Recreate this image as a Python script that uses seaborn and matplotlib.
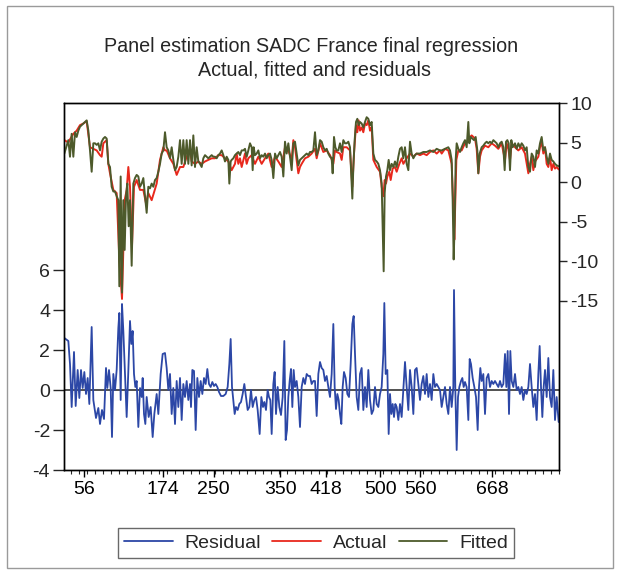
import matplotlib
matplotlib.use("Agg")
import matplotlib.pyplot as plt
import seaborn as sns
from matplotlib.ticker import FixedLocator, MultipleLocator
from matplotlib.patches import Rectangle
from matplotlib.lines import Line2D

sns.set_style("white")
plt.rcParams['font.family'] = ['Liberation Sans', 'DejaVu Sans']

title_lines = ["Panel estimation SADC France final regression", "Actual, fitted and residuals"]
series_names = ["Residual", "Actual", "Fitted"]
x_tick_values = [56, 174, 250, 350, 418, 500, 560, 668]
left_ticks = [-4, -2, 0, 2, 4, 6]
right_ticks = [-15, -10, -5, 0, 5, 10]

resid_obs = [
    26, 32, 34.5, 37, 40.5, 43, 46, 48.5, 51, 53.5,
    56, 58.5, 61, 63.5, 67, 69.5, 73.5, 77, 79.5, 82.5,
    85.5, 88.5, 90.5, 93, 95.5, 97.5, 99.5, 102, 104.5, 107,
    108.5, 110.5, 112.5, 114.5, 117, 119.5, 122, 124.5, 126.5, 128.5,
    130.5, 132.5, 134.5, 137, 139.5, 142, 143.5, 145.5, 147.5, 149.5,
    152.5, 155.5, 158.5, 161, 164.5, 167, 170.5, 173.5, 177, 179.5,
    182, 184.5, 187, 189.5, 192, 194.5, 197, 199.5, 202, 204.5,
    207, 209.5, 212, 214.5, 216, 218, 220.5, 223, 225.5, 228,
    230.5, 233, 235.5, 238, 240.5, 243, 245.5, 248, 250.5, 253,
    255.5, 258, 261, 264.5, 268, 271, 273.5, 275.5, 277.5, 279.5,
    281.5, 283.5, 286, 288.5, 291, 293.5, 296, 298.5, 301, 303.5,
    306, 308.5, 311, 313.5, 316, 319, 321.5, 324, 326, 328.5,
    331, 333, 335, 337, 339.5, 341.5, 343.5, 346, 348.5, 351,
    353.5, 356, 358, 360, 362, 364, 366, 368, 370, 372,
    374.5, 377, 379.5, 382, 384.5, 387, 389.5, 392, 394.5, 397,
    399.5, 402, 404.5, 407, 409.5, 412, 414.5, 417, 419.5, 422,
    424.5, 427, 429.5, 431.5, 433.5, 435.5, 437.5, 439.5, 441.5, 443.5,
    445.5, 448, 450.5, 453, 455.5, 458, 460, 462, 464.5, 467,
    469.5, 472, 474.5, 477, 479.5, 482, 484.5, 487, 489.5, 492,
    494.5, 497, 499.5, 502, 504.5, 506, 508, 510.5, 512.5, 514.5,
    516.5, 518.5, 520.5, 522.5, 524.5, 527, 529.5, 532, 534.5, 537,
    539.5, 542, 544.5, 547, 549.5, 552, 554.5, 557, 559.5, 562,
    564.5, 567, 569.5, 572, 574.5, 577, 579.5, 582, 584.5, 587,
    589.5, 592, 594.5, 597, 599.5, 602, 604.5, 607, 609.5, 610.5,
    612.5, 614.5, 616.5, 618.5, 621, 623, 625, 627, 629.5, 632,
    634, 636, 638.5, 641, 643.5, 646, 648, 650, 652, 654.5,
    657, 659.5, 662, 664.5, 667, 669.5, 672, 674.5, 677, 679.5,
    682, 684.5, 687, 689, 691, 693, 695, 697, 699.5, 702,
    704.5, 707, 709.5, 712, 714.5, 717, 719.5, 722, 724.5, 727,
    729.5, 732, 734.5, 737, 739, 741, 743, 745, 747, 749.5,
    752, 754.5, 757, 759.5, 762, 764.5, 767.5,
]
resid_val = [
    2.6, 2.45, 1.3, -0.85, 1.9, -0.8, 1.0, -0.4, 1.0, 0.1,
    0.9, -0.2, 0.6, -0.7, 3.15, -0.5, -1.4, -0.9, -1.7, -1.0,
    -1.45, 1.1, 0.1, 1.0, 0.1, -2.35, 0.8, 0.0, 1.0, 3.1,
    3.85, -0.5, 4.3, 2.95, 0.8, -1.35, 0.95, 3.45, 2.3, 2.95,
    0.8, 0.15, 0.45, -1.85, 0.1, -0.35, 0.6, -1.2, -1.7, -0.35,
    -1.35, -0.85, -2.35, -1.2, -0.2, -1.2, 0.8, 1.8, 1.85, 1.1,
    0.0, 0.8, -1.2, 0.1, -1.7, 0.45, -0.85, 0.6, -1.5, 0.3,
    -0.35, 0.45, -0.5, 0.3, -0.85, 1.0, 0.95, -2.0, 0.6, -0.35,
    0.45, -0.2, 0.6, 0.3, 1.05, 0.3, 0.15, 0.4, 0.2, 0.3,
    0.15, -0.1, -0.3, -0.3, -0.2, 0.15, 1.3, 2.55, 0.15, -0.5,
    -1.2, -0.85, -1.0, -0.7, -0.6, -0.2, 0.3, -0.35, -1.0, -0.85,
    0.0, -0.85, -0.5, -0.35, -1.0, -2.2, -0.35, -0.85, -0.6, -1.0,
    0.0, -0.35, -0.5, -2.2, 0.3, 0.9, -1.2, 0.15, -0.85, -1.25,
    -0.35, 2.45, -2.5, -2.0, -0.35, 0.45, 1.05, -0.85, 1.0, 0.15,
    0.45, -0.35, -1.85, 0.15, 0.6, 0.3, 0.8, 0.7, 0.7, 0.3,
    0.45, 0.45, -1.3, 0.8, 1.4, 1.1, 1.0, 0.45, 0.7, 0.15,
    -0.35, 0.8, 3.3, 0.15, -0.95, -0.2, -0.5, -1.2, -1.7, 0.15,
    0.9, 0.6, -0.2, -0.35, 1.3, 3.3, 3.7, 1.8, -0.35, -1.0,
    0.8, 1.1, -1.0, 0.15, -0.85, 1.0, -0.5, -1.2, -1.0, 0.15,
    -0.7, -0.85, -0.2, 0.15, 1.8, 4.35, 0.8, 1.0, -2.2, -0.2,
    -1.2, -0.7, -1.35, -0.7, -0.85, -1.5, -0.7, -1.35, 0.0, 1.4,
    0.15, -1.0, 1.0, 0.15, -1.2, 1.0, 1.1, 0.3, -0.5, 0.3,
    0.7, -0.2, 0.8, -0.35, 0.3, -0.5, 0.8, 0.15, 0.3, 0.15,
    0.0, -0.85, -0.35, 0.15, -0.7, -1.2, 0.15, -0.85, 0.15, 5.0,
    0.0, -3.0, -0.35, 0.15, 0.45, 0.6, 0.15, 0.4, 0.15, -1.5,
    1.55, 1.3, 0.6, 0.15, -0.35, -2.0, 0.15, 1.1, 0.45, 0.8,
    -1.2, 0.6, 0.8, 0.15, 0.45, 0.3, 0.45, 0.3, 0.15, 0.45,
    0.15, 0.3, 1.8, 0.15, 1.95, -1.2, 1.95, 0.45, 0.15, 0.8,
    0.0, 0.15, -0.2, 0.15, -0.5, 0.0, -0.2, 0.15, 1.3, 0.15,
    -0.85, -0.2, -1.5, 0.8, 2.2, 0.15, -1.35, 0.15, 1.0, -0.35,
    1.6, -0.35, -0.85, 1.0, -1.5, -0.35, -1.6,
]

fitted_obs = [
    26, 32, 34.5, 37, 39.5, 42, 44.5, 47, 49.5, 52,
    54.5, 57, 59.5, 62, 64.5, 67, 69.5, 72, 74.5, 77,
    79.5, 82, 84.5, 87, 89.5, 92, 94.5, 97, 99.5, 102,
    104.5, 107, 108.5, 110.5, 112.5, 114.5, 116.5, 118.5, 120.5, 122.5,
    124.5, 127, 129.5, 132, 134.5, 137, 139.5, 142, 144.5, 147,
    149.5, 152, 154.5, 157, 159.5, 162, 164.5, 167, 169.5, 172,
    174.5, 177, 179.5, 182, 184.5, 187, 189.5, 192, 194.5, 197,
    199.5, 202, 204.5, 207, 209.5, 212, 214.5, 217, 219.5, 222,
    224.5, 227, 229.5, 232, 234.5, 237, 239.5, 242, 244.5, 247,
    249.5, 252, 254.5, 257, 259.5, 262, 264.5, 267, 269.5, 272,
    273.5, 275.5, 277, 279.5, 282, 284.5, 287, 289.5, 292, 294.5,
    297, 299.5, 302, 304.5, 307, 308.5, 310, 312, 314.5, 317,
    319.5, 322, 324.5, 327, 329.5, 332, 334.5, 337, 339.5, 342,
    344.5, 347, 349.5, 352, 354.5, 357, 359.5, 362, 364.5, 367,
    369.5, 372, 374.5, 377, 379.5, 382, 384.5, 387, 389.5, 392,
    394.5, 397, 399.5, 402, 404.5, 407, 409.5, 412, 414.5, 417,
    419.5, 422, 424.5, 427, 428.5, 430.5, 432.5, 434.5, 437, 439.5,
    442, 444.5, 447, 449.5, 452, 454.5, 456.5, 458, 459.5, 461.5,
    463.5, 465.5, 467.5, 469.5, 472, 474.5, 477, 479.5, 482, 484.5,
    487, 489.5, 492, 494.5, 497, 499.5, 502, 503.5, 505, 506.5,
    508.5, 510.5, 512.5, 514.5, 517, 519.5, 522, 524.5, 527, 529.5,
    532, 534.5, 537, 539.5, 542, 544.5, 547, 549.5, 552, 554.5,
    559.5, 564.5, 569.5, 574.5, 579.5, 584.5, 589.5, 592, 597, 602,
    604.5, 607, 608.5, 610, 611.5, 613, 614.5, 617, 619.5, 622,
    624.5, 627, 629.5, 632, 633.5, 635.5, 638, 640.5, 643, 645.5,
    647, 649, 652, 654.5, 657, 659.5, 662, 664.5, 667, 669.5,
    672, 674.5, 677, 679.5, 682, 684.5, 686.5, 688.5, 690.5, 692.5,
    694.5, 696.5, 698.5, 702, 704.5, 707, 709.5, 712, 714.5, 717,
    719.5, 722, 724.5, 727, 729.5, 732, 734.5, 737, 739.5, 742,
    744.5, 747, 749.5, 752, 754.5, 757, 759.5, 762, 764.5, 767.5,
]
fitted_val = [
    3.6, 5.3, 3.2, 6.1, 3.2, 6.3, 5.7, 6.5, 7.0, 7.2,
    7.4, 7.6, 7.8, 6.5, 4.0, 1.3, 4.9, 4.9, 4.7, 4.9,
    4.0, 5.1, 5.5, 5.7, 5.5, 2.3, 1.9, -0.6, -1.2, -1.2,
    -1.8, -2.3, -13.2, 0.7, -14.0, -2.3, -8.6, -1.8, -0.2, -5.6,
    -2.3, -10.6, -0.2, 0.5, 0.9, 0.7, -0.6, -0.2, 0.5, -1.8,
    -3.9, -0.6, -0.8, -0.2, -0.6, 0.25, 0.5, 1.3, 2.3, 3.6,
    4.0, 6.3, 4.4, 4.0, 3.0, 4.4, 2.8, 1.5, 1.9, 3.2,
    5.3, 2.3, 5.3, 2.3, 5.3, 2.3, 5.3, 2.1, 5.9, 1.9,
    4.4, 2.6, 2.3, 1.9, 3.0, 3.4, 3.2, 3.0, 3.2, 3.4,
    3.2, 3.2, 3.0, 3.4, 3.6, 4.0, 3.4, 2.6, 3.2, 2.8,
    -0.2, 2.6, 2.8, 3.0, 3.4, 3.6, 3.8, 3.4, 4.0, 4.0,
    4.2, 3.2, 4.0, 4.9, 4.4, 1.5, 4.4, 3.4, 3.6, 4.0,
    3.0, 3.4, 3.2, 3.6, 3.0, 3.4, 3.6, 2.8, 0.5, 3.6,
    3.0, 3.4, 3.8, 3.2, 0.7, 5.1, 3.6, 4.9, 3.2, 1.5,
    4.9, 5.1, 3.6, 2.1, 2.8, 3.0, 3.2, 3.4, 3.6, 3.4,
    3.8, 3.8, 4.0, 6.3, 3.4, 4.0, 5.3, 5.1, 4.4, 4.0,
    4.2, 3.6, 3.2, 3.0, 1.1, 5.7, 4.4, 4.0, 4.0, 4.9,
    3.8, 5.3, 4.9, 4.9, 5.1, 4.4, 0.7, -2.1, 1.9, 5.3,
    7.6, 8.0, 7.2, 7.6, 7.4, 6.9, 7.6, 8.2, 8.0, 7.2,
    7.6, 3.6, 2.8, 2.6, 2.3, 1.5, -0.2, -5.6, -11.3, -1.4,
    0.7, 1.5, 2.8, 1.5, 2.3, 1.9, 2.6, 1.9, 3.2, 4.2,
    4.4, 3.0, 4.4, 2.3, 1.5, 5.1, 3.6, 3.0, 3.4, 3.6,
    3.6, 3.8, 3.8, 4.0, 3.8, 4.2, 4.0, 4.0, 4.2, 4.4,
    4.0, 2.8, -2.3, -9.8, -5.2, 2.8, 4.9, 4.2, 3.8, 4.4,
    4.9, 5.3, 4.4, 7.6, 4.9, 5.7, 5.5, 5.3, 5.7, 4.0,
    1.1, 3.6, 4.4, 4.6, 4.9, 5.1, 4.9, 5.1, 4.9, 5.3,
    5.1, 4.9, 4.4, 4.9, 5.1, 4.4, 1.5, 5.1, 5.3, 4.9,
    1.5, 5.3, 4.4, 4.9, 4.2, 4.9, 4.4, 4.9, 4.6, 4.0,
    4.4, 1.9, 1.3, 3.6, 3.2, 1.9, 4.0, 3.6, 4.9, 5.7,
    4.0, 4.4, 3.2, 2.3, 3.6, 2.8, 2.6, 2.3, 2.1, 2.0,
]

actual_obs = [
    26, 32, 34.5, 39.5, 44.5, 49.5, 54.5, 59.5, 64.5, 69.5,
    74.5, 79.5, 82, 84.5, 89.5, 92, 94.5, 99.5, 104.5, 108.5,
    112.5, 116.5, 119.5, 122, 124.5, 127.5, 130.5, 134.5, 139.5, 144.5,
    148.5, 152, 157, 159.5, 164.5, 169.5, 174.5, 177, 179.5, 184.5,
    189.5, 194.5, 199.5, 204.5, 209.5, 214.5, 217, 222, 227, 232,
    237, 242, 247, 252, 257, 262, 267, 272, 277, 279.5,
    282, 284.5, 287, 289.5, 292, 297, 299.5, 302, 307, 312,
    317, 322, 327, 332, 337, 342, 347, 352, 357, 362,
    367, 369.5, 372, 377, 379.5, 382, 387, 392, 397, 402,
    404.5, 409.5, 414.5, 419.5, 424.5, 429.5, 432, 434.5, 439.5, 442,
    444.5, 449.5, 454.5, 458, 460.5, 463.5, 465.5, 467.5, 469.5, 472,
    474.5, 477, 479.5, 482, 484.5, 487, 489.5, 494.5, 499.5, 502,
    504.5, 506.5, 508.5, 510.5, 513.5, 515.5, 518.5, 522, 524.5, 528.5,
    532, 534.5, 539.5, 544.5, 549.5, 554.5, 559.5, 564.5, 569.5, 574.5,
    579.5, 584.5, 589.5, 592, 597, 602, 607, 609.5, 611, 612.5,
    614, 617, 622, 627, 632, 634.5, 637, 642, 644.5, 647,
    649.5, 652, 657, 662, 667, 672, 677, 682, 684.5, 687,
    689.5, 692, 694.5, 697, 702, 707, 712, 717, 722, 724.5,
    727, 729.5, 732, 737, 739.5, 742, 744.5, 747, 749.5, 752,
    754.5, 757, 759.5, 762, 764.5, 767.5,
]
actual_val = [
    5.3, 5.0, 5.4, 6.1, 6.5, 7.2, 7.4, 7.7, 4.4, 4.2,
    4.0, 3.4, 3.2, 4.9, 5.3, 2.3, 1.1, -1.0, -1.4, -9.8,
    -14.8, -2.3, -1.0, 1.9, -0.6, -8.1, -0.6, 0.25, -1.0, -1.0,
    -2.7, -1.4, -2.3, -1.6, -0.2, 2.8, 4.4, 4.0, 4.0, 3.0,
    2.3, 0.9, 1.9, 1.9, 3.2, 4.0, 2.6, 2.3, 2.6, 2.3,
    2.6, 2.8, 3.0, 3.0, 3.4, 3.4, 3.0, 2.6, 1.5, 1.9,
    2.3, 3.6, 2.3, 3.0, 1.9, 3.6, 2.3, 3.0, 3.4, 2.3,
    3.2, 2.3, 3.0, 3.6, 1.9, 3.2, 2.6, 1.9, 4.4, 4.0,
    2.8, 5.3, 4.4, 1.1, 1.9, 2.3, 3.0, 3.2, 3.6, 4.2,
    3.0, 4.9, 3.8, 4.0, 3.4, 2.3, 4.0, 3.8, 3.6, 2.8,
    4.4, 4.4, 4.0, -0.6, 3.6, 7.2, 6.3, 7.8, 6.5, 6.9,
    6.3, 7.4, 7.2, 7.8, 6.5, 6.9, 2.8, 1.9, 1.3, -0.6,
    -1.8, 0.25, -0.2, 0.7, 1.3, 0.25, 1.7, 1.9, 1.3, 2.3,
    3.0, 2.3, 3.0, 3.6, 3.2, 3.6, 3.4, 3.6, 3.4, 3.8,
    4.0, 3.6, 4.0, 3.6, 4.2, 4.0, 2.3, -3.1, -7.3, -2.3,
    2.8, 4.0, 4.0, 4.9, 5.1, 5.7, 5.9, 5.5, 4.2, 1.1,
    3.2, 4.0, 4.6, 4.4, 4.9, 4.6, 4.2, 4.9, 3.8, 2.8,
    4.9, 4.2, 2.8, 4.9, 4.4, 4.0, 4.4, 3.6, 1.1, 2.3,
    3.2, 1.5, 2.6, 3.2, 4.4, 5.1, 3.6, 4.4, 2.3, 1.9,
    3.2, 1.5, 2.3, 1.7, 1.9, 1.6,
]

colors = {"Residual": "#2c47a6", "Actual": "#e8281c", "Fitted": "#4d5a2b"}

W, H = 621, 574
fig = plt.figure(figsize=(W / 100, H / 100), dpi=100)
fig.patch.set_facecolor("white")
fig.add_artist(Rectangle((7 / W, 6 / H), 606 / W, 562 / H, transform=fig.transFigure,
                         fill=False, edgecolor="#9a9a9a", lw=1.0))

left, right, top, bottom = 64, 559, 103, 470
ax = fig.add_axes([left / W, 1 - bottom / H, (right - left) / W, (bottom - top) / H])
ax2 = ax.twinx()

sns.lineplot(x=resid_obs, y=resid_val, ax=ax, color=colors["Residual"], lw=1.3,
             estimator=None, sort=False)
ax.axhline(0, color="#333333", lw=1.2, zorder=1)
sns.lineplot(x=actual_obs, y=actual_val, ax=ax2, color=colors["Actual"], lw=1.4,
             estimator=None, sort=False)
sns.lineplot(x=fitted_obs, y=fitted_val, ax=ax2, color=colors["Fitted"], lw=1.4,
             estimator=None, sort=False)

ax.set_xlim(25.5, 768)
ax.set_ylim(-4, 14.35)
ax2.set_ylim(-36.45, 10)

ax.xaxis.set_major_locator(FixedLocator(x_tick_values))
ax.set_xticklabels([str(v) for v in x_tick_values])
ax.xaxis.set_minor_locator(MultipleLocator(12))
ax.yaxis.set_major_locator(FixedLocator(left_ticks))
ax.set_yticklabels([str(v) for v in left_ticks])
ax2.yaxis.set_major_locator(FixedLocator(right_ticks))
ax2.set_yticklabels([str(v) for v in right_ticks])

for a in (ax, ax2):
    for s in a.spines.values():
        s.set_color("black")
        s.set_linewidth(1.0)
    a.set_xlabel("")
    a.set_ylabel("")

ax.tick_params(axis="x", which="major", direction="out", length=5, width=1,
               labelsize=14, pad=3, bottom=True, colors="black")
ax.tick_params(axis="x", which="minor", direction="out", length=3, width=0.8, bottom=True)
ax.tick_params(axis="y", direction="out", length=8, width=1, labelsize=14, pad=2,
               left=True, right=False)
ax2.tick_params(axis="y", direction="out", length=6, width=1, labelsize=14, pad=2,
                right=True, left=False)

fig.text(311 / W, 1 - 47 / H, title_lines[0], ha="center", va="center", fontsize=14.2)
fig.text(314 / W, 1 - 70 / H, title_lines[1], ha="center", va="center", fontsize=14.2)

handles = [Line2D([], [], color=colors[n], lw=1.3) for n in series_names]
leg = fig.legend(handles, series_names, loc="center", bbox_to_anchor=(316 / W, 1 - 543 / H),
                 ncol=3, frameon=True, fancybox=False, fontsize=14, handlelength=2.5,
                 columnspacing=0.6, handletextpad=0.6, borderpad=0.3)
leg.get_frame().set_edgecolor("#444444")
leg.get_frame().set_linewidth(1.0)

fig.savefig("out.png", dpi=100)
